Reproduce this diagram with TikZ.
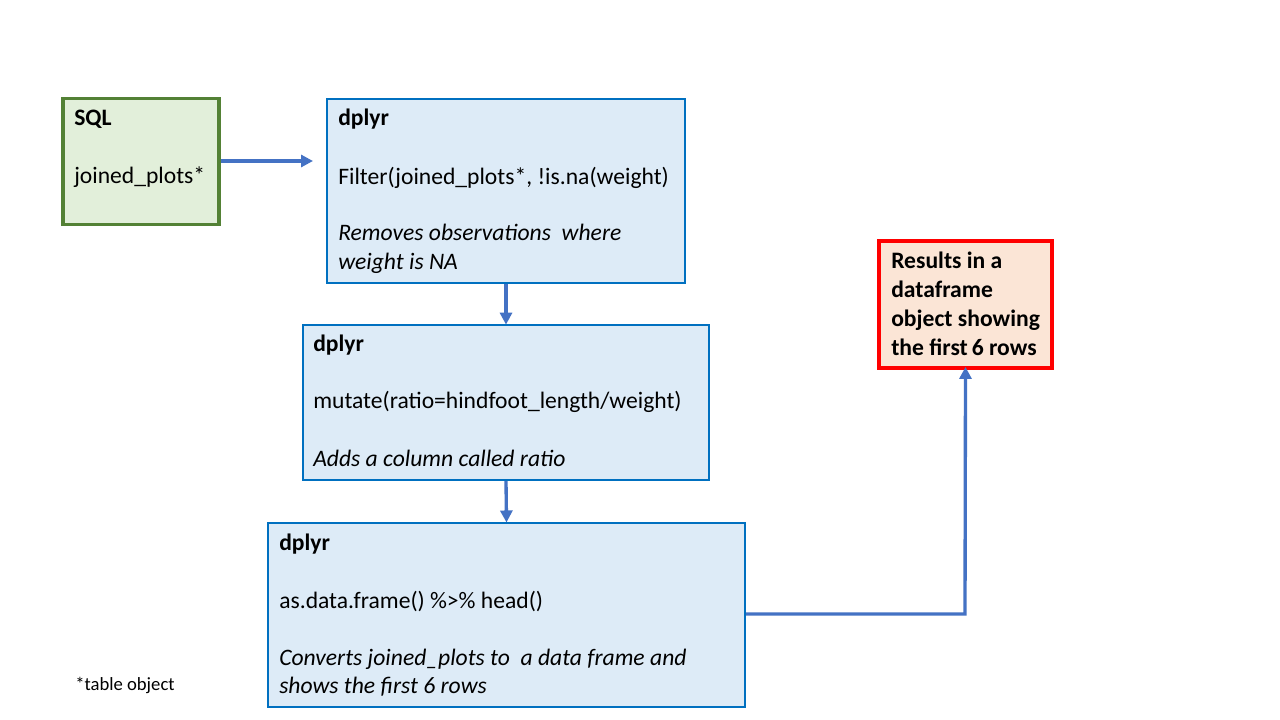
\documentclass[tikz,border=0pt]{standalone}
\usepackage{fontspec}
\setmainfont{Carlito}
\usetikzlibrary{arrows.meta}
\definecolor{bluebd}{HTML}{0070C0}
\definecolor{bluefill}{HTML}{DDEBF7}
\definecolor{greenbd}{HTML}{538135}
\definecolor{greenfill}{HTML}{E2EFDA}
\definecolor{redbd}{HTML}{FF0000}
\definecolor{redfill}{HTML}{FBE5D6}
\definecolor{arrowc}{HTML}{4472C4}
\newcommand{\mainsize}{\fontsize{17.7}{21}\selectfont}
\begin{document}
\begin{tikzpicture}[x=0.75pt,y=-0.75pt,
  boxbase/.style={draw,rectangle,inner sep=0pt},
  bluebox/.style={boxbase,draw=bluebd,fill=bluefill,line width=1.8pt},
  greenbox/.style={boxbase,draw=greenbd,fill=greenfill,line width=2.4pt},
  redbox/.style={boxbase,draw=redbd,fill=redfill,line width=2.4pt},
  txt/.style={anchor=base west,inner sep=0pt,font=\mainsize},
  btxt/.style={txt,font=\mainsize\bfseries},
  itxt/.style={txt,font=\mainsize\itshape},
  flow/.style={draw=arrowc,line width=2.5pt,-{Triangle[length=9pt,width=9pt]}}]
\useasboundingbox (0,0) rectangle (1280,720);
\fill[white] (0,0) rectangle (1280,720);
% boxes
\node[greenbox,minimum width=117pt,minimum height=95pt] (sql) at (141,161.5) {};
\node[bluebox,minimum width=268.5pt,minimum height=138pt] (d1) at (506,191) {};
\node[bluebox,minimum width=304.5pt,minimum height=116pt] (d2) at (506,402.5) {};
\node[bluebox,minimum width=357.75pt,minimum height=138pt] (d3) at (506.5,615) {};
\node[redbox,minimum width=129.75pt,minimum height=95.25pt] (res) at (965.5,304.5) {};
% texts
\node[btxt] (sqlt) at (74,126) {SQL};
\node[txt] (sqlj) at (74,184) {joined\_plots*};
\node[btxt] (d1t) at (338,126) {dplyr};
\node[txt] (d1a) at (338,185) {Filter(joined\_plots*, !is.na(weight)};
\node[itxt] (d1b) at (338,241) {Removes observations\ \ where};
\node[itxt] (d1c) at (338,269) {weight is NA};
\node[btxt] (d2t) at (313,351) {dplyr};
\node[txt] (d2a) at (313,408) {mutate(ratio=hindfoot\_length/weight)};
\node[itxt] (d2b) at (313,466) {Adds a column called ratio};
\node[btxt] (d3t) at (279,550) {dplyr};
\node[txt] (d3a) at (279,608) {as.data.frame() \%>\% head()};
\node[itxt] (d3b) at (279,665) {Converts joined\_plots to\ \ a data frame and};
\node[itxt] (d3c) at (279,693) {shows the first 6 rows};
\node[btxt] (r1) at (891,268) {Results in a};
\node[btxt] (r2) at (891,297) {dataframe};
\node[btxt] (r3) at (891,326) {object showing};
\node[btxt] (r4) at (891,355) {the first\,6 rows};
\node[txt,font=\fontsize{14}{16}\selectfont] (foot) at (75,690) {*table object};
% connectors
\coordinate (sqlend) at (313,161);
\draw[flow] (sql.east |- sqlend) -- (sqlend);
\draw[flow] (d1.south) -- ([yshift=-0.5pt]d2.north);
\draw[flow] (d2.south) -- ([yshift=-0.5pt]d3.north);
\coordinate (corner) at (965,614);
\draw[flow] (d3.east |- corner) -- (corner) -- ([yshift=2pt]res.south);
\end{tikzpicture}
\end{document}
